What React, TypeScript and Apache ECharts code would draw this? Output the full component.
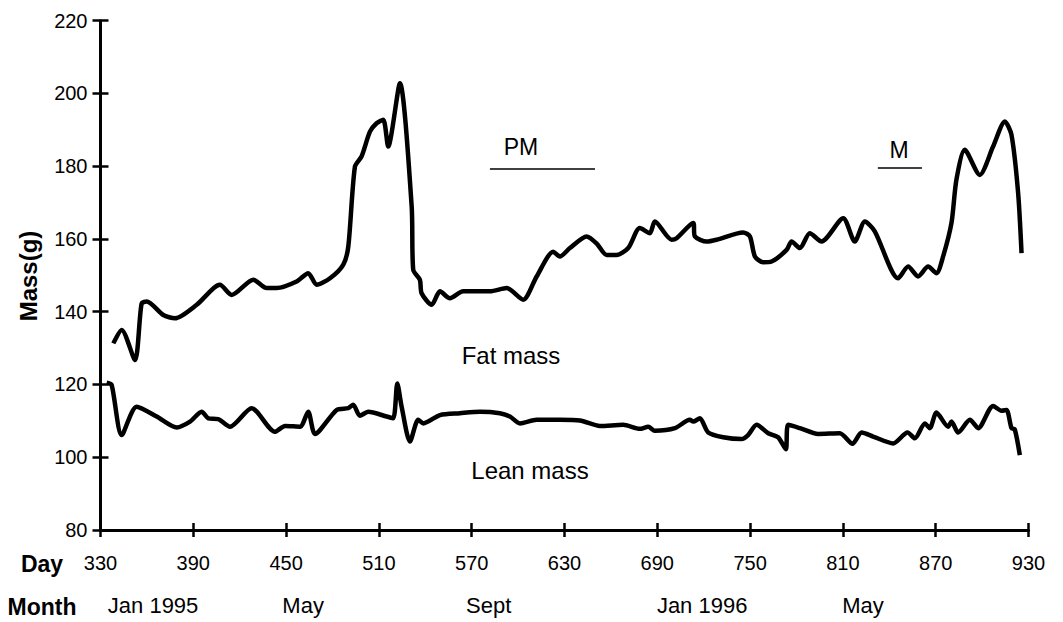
import React, { useEffect, useRef } from "react";
import * as echarts from "echarts";

const FONT = '"Liberation Sans", Arial, sans-serif';

const xTicks = [330, 390, 450, 510, 570, 630, 690, 750, 810, 870, 930];
const monthDays = [364, 461, 581, 719, 823];
const monthLabels = ["Jan 1995", "May", "Sept", "Jan 1996", "May"];

const fatDays = [
  338.3, 343.7, 352.3, 356.6, 359.9, 370.6, 378.2, 392.2, 407.2, 414.8, 428.8, 437.4, 443.9,
  456.8, 464.3, 469.8, 478.4, 486.9, 490.2, 494.5, 498.8, 504.2, 508.5, 512.8, 516.0, 523.6,
  531.2, 532.2, 536.5, 537.6, 544.1, 549.5, 555.9, 564.5, 581.8, 592.6, 603.3, 612.0, 622.7,
  627.0, 633.5, 644.3, 650.7, 657.2, 663.7, 671.2, 678.7, 685.2, 688.4, 699.2, 702.5, 713.2,
  714.3, 721.9, 728.3, 745.5, 749.9, 753.1, 758.4, 763.9, 773.6, 776.8, 782.2, 788.6, 796.2,
  810.2, 817.7, 824.2, 830.6, 845.7, 852.2, 858.6, 865.1, 870.5, 874.8, 880.2, 883.4, 888.8,
  898.5, 907.1, 914.7, 919.0, 923.3, 925.5,
];
const fatMass = [
  131.3, 135.0, 126.7, 142.3, 142.8, 139.1, 138.2, 141.9, 147.4, 144.6, 148.8, 146.5, 146.5,
  148.3, 150.6, 147.4, 149.2, 152.9, 157.9, 179.9, 182.7, 189.5, 191.8, 192.8, 185.4, 202.8,
  168.9, 151.5, 148.8, 145.1, 141.9, 145.6, 143.7, 145.6, 145.6, 146.5, 143.3, 149.7, 156.5,
  155.2, 157.5, 160.7, 158.8, 155.6, 155.6, 157.5, 163.0, 161.6, 164.8, 159.8, 160.2, 164.4,
  160.7, 159.3, 159.8, 161.8, 160.7, 155.2, 153.6, 153.8, 157.0, 159.3, 157.5, 161.6, 159.3,
  165.7, 159.3, 164.8, 162.1, 149.2, 152.4, 149.7, 152.4, 150.6, 155.2, 164.4, 176.3, 184.5,
  177.6, 185.4, 192.3, 188.6, 172.6, 156.1,
];

const leanDays = [
  334.0, 337.2, 343.7, 353.4, 366.3, 379.3, 387.9, 395.4, 399.7, 406.1, 413.7, 427.7, 442.8,
  449.3, 459.0, 464.3, 468.7, 482.7, 490.2, 493.4, 497.7, 503.1, 515.0, 519.3, 521.9, 524.7,
  530.1, 535.4, 538.7, 549.5, 562.4, 575.3, 588.2, 594.7, 601.2, 612.0, 627.0, 640.0, 652.9,
  667.9, 678.7, 684.1, 688.4, 701.4, 711.0, 713.2, 717.5, 722.9, 732.6, 744.5, 748.7, 754.2,
  761.7, 768.1, 773.1, 774.6, 782.2, 794.0, 808.0, 816.2, 822.1, 829.5, 842.5, 851.8, 856.5,
  863.0, 866.2, 870.5, 878.0, 880.2, 884.5, 892.1, 897.5, 907.1, 912.5, 915.8, 919.0, 921.1,
  924.4,
];
const leanMass = [
  120.5, 119.9, 106.1, 113.9, 111.2, 108.2, 109.8, 112.5, 110.7, 110.5, 108.4, 113.5, 107.0,
  108.6, 108.4, 112.5, 106.4, 113.0, 113.5, 114.4, 111.4, 112.5, 111.2, 110.7, 120.3, 113.9,
  104.3, 110.3, 109.3, 111.6, 112.1, 112.5, 112.1, 111.2, 109.3, 110.3, 110.3, 110.1, 108.6,
  108.9, 107.8, 108.4, 107.3, 108.0, 110.3, 109.8, 110.7, 106.8, 105.5, 105.0, 106.1, 108.9,
  106.6, 105.5, 102.2, 108.9, 108.0, 106.4, 106.6, 103.7, 106.8, 105.7, 103.8, 106.8, 105.2,
  109.3, 108.0, 112.3, 108.4, 109.8, 106.8, 110.3, 108.0, 114.1, 112.8, 113.0, 108.0, 107.7,
  100.6,
];

// annotation bars (day start, day end, mass level)
const pmBar = [581.8, 649.7, 179.4];
const mBar = [832.6, 861.1, 179.6];

export default function App() {
  const ref = useRef<HTMLDivElement>(null);
  useEffect(() => {
    if (!ref.current) return;
    const chart = echarts.init(ref.current, null, { renderer: "svg" });
    const axisLine = { show: true, lineStyle: { color: "#000", width: 3 } };
    const txt = (text: string, x: number, y: number, size: number, bold = false, extra: any = {}) => ({
      type: "text",
      x,
      y,
      ...extra,
      style: {
        text,
        fill: "#000",
        fontFamily: FONT,
        fontSize: size,
        fontWeight: bold ? "bold" : "normal",
        align: "center",
        verticalAlign: "middle",
      },
    });
    chart.setOption({
      animation: false,
      backgroundColor: "#fff",
      grid: { left: 100.5, right: 34.5, top: 20.7, bottom: 92, containLabel: false, outerBoundsMode: "none" },
      xAxis: [
        {
          type: "value",
          position: "bottom",
          min: 330,
          max: 930,
          axisLine,
          axisTick: { show: true, length: 7, customValues: xTicks, lineStyle: { color: "#000", width: 2.5 } },
          axisLabel: { show: true, customValues: xTicks, color: "#000", fontFamily: FONT, fontSize: 20, margin: 23 },
          splitLine: { show: false },
        },
        {
          type: "value",
          position: "bottom",
          min: 330,
          max: 930,
          axisLine: { show: false },
          axisTick: { show: true, inside: true, length: 7, customValues: xTicks, lineStyle: { color: "#000", width: 2.5 } },
          axisLabel: { show: false },
          splitLine: { show: false },
        },
        {
          type: "value",
          position: "bottom",
          offset: 42,
          min: 330,
          max: 930,
          axisLine: { show: false },
          axisTick: { show: false },
          axisLabel: {
            show: true,
            customValues: monthDays,
            formatter: (v: number) => monthLabels[monthDays.indexOf(v)] ?? "",
            color: "#000",
            fontFamily: FONT,
            fontSize: 22,
            margin: 22,
          },
          splitLine: { show: false },
        },
      ],
      yAxis: [
        {
          type: "value",
          position: "left",
          min: 80,
          max: 220,
          interval: 20,
          axisLine,
          axisTick: { show: true, length: 8, lineStyle: { color: "#000", width: 2.5 } },
          axisLabel: { color: "#000", fontFamily: FONT, fontSize: 20, margin: 13 },
          splitLine: { show: false },
        },
        {
          type: "value",
          position: "left",
          min: 80,
          max: 220,
          interval: 20,
          axisLine: { show: false },
          axisTick: { show: true, inside: true, length: 8, lineStyle: { color: "#000", width: 2.5 } },
          axisLabel: { show: false },
          splitLine: { show: false },
        },
      ],
      series: [
        {
          type: "line",
          name: "Fat mass",
          xAxisIndex: 0,
          yAxisIndex: 0,
          data: fatDays.map((d, i) => [d, fatMass[i]]),
          showSymbol: false,
          smooth: 0.25,
          lineStyle: { color: "#000", width: 4.5 },
          markLine: {
            silent: true,
            symbol: "none",
            label: { show: false },
            lineStyle: { color: "#000", width: 1.5, type: "solid" },
            data: [
              [{ coord: [pmBar[0], pmBar[2]] }, { coord: [pmBar[1], pmBar[2]] }],
              [{ coord: [mBar[0], mBar[2]] }, { coord: [mBar[1], mBar[2]] }],
            ],
          },
        },
        {
          type: "line",
          name: "Lean mass",
          xAxisIndex: 0,
          yAxisIndex: 0,
          data: leanDays.map((d, i) => [d, leanMass[i]]),
          showSymbol: false,
          smooth: 0.25,
          lineStyle: { color: "#000", width: 4.5 },
        },
      ],
      graphic: [
        txt("Mass(g)", 28, 276, 24, true, { rotation: Math.PI / 2 }),
        txt("Day", 42, 564, 23, true),
        txt("Month", 42, 607, 23, true),
        txt("Fat mass", 511, 355, 24),
        txt("Lean mass", 530, 470, 24),
        txt("PM", 521, 147, 23),
        txt("M", 899, 150, 23),
      ],
    });
    return () => chart.dispose();
  }, []);
  return (
    <div
      ref={ref}
      style={{ position: "fixed", left: 0, top: 0, width: 1063, height: 622, background: "#fff" }}
    />
  );
}
